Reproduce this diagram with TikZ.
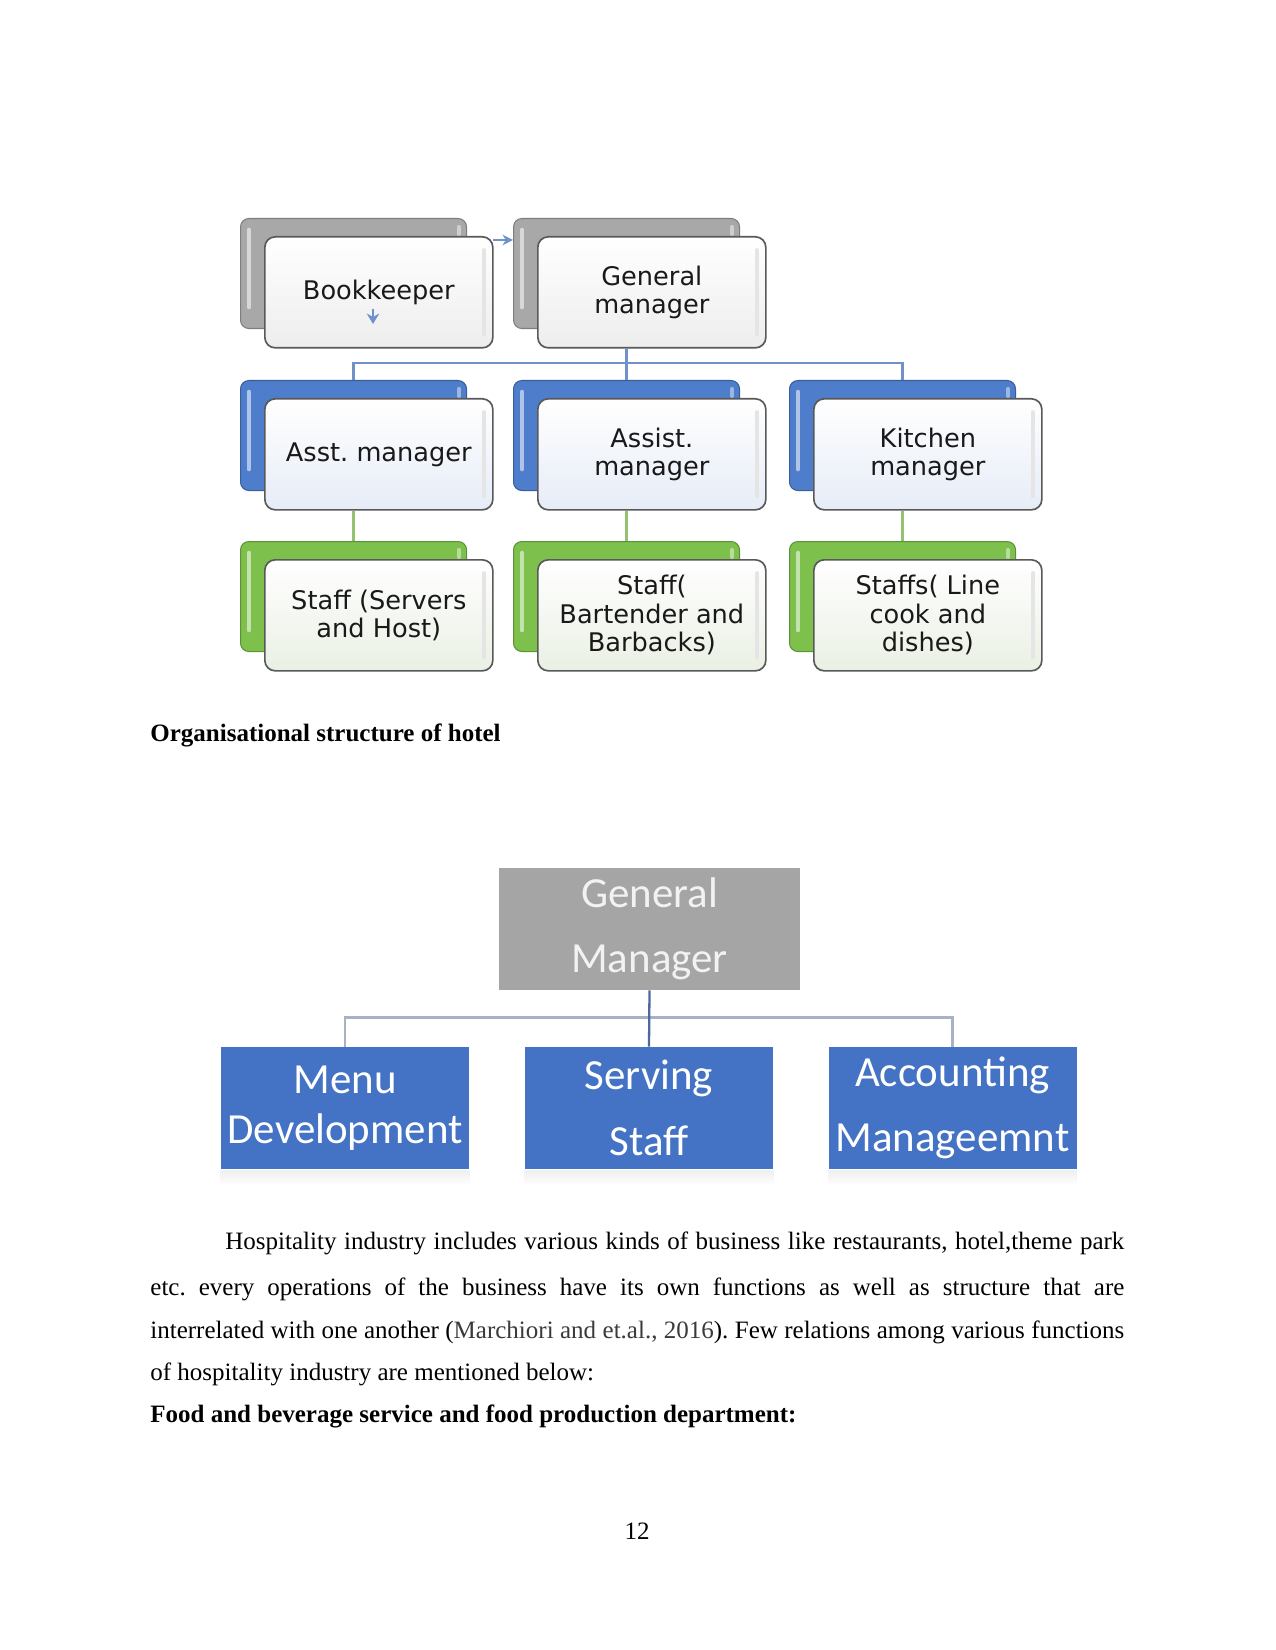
\documentclass[tikz,border=0pt]{standalone}
\usepackage{fontspec}
\setmainfont{Liberation Serif}
\newfontfamily\dvfont{DejaVu Sans}
\newfontfamily\cbfont{Carlito}
\usetikzlibrary{arrows.meta,calc}
\frenchspacing
\definecolor{gback}{HTML}{A8A8A8}
\definecolor{bback}{HTML}{4E7DCC}
\definecolor{grback}{HTML}{7DC04B}
\definecolor{gfront}{HTML}{EDEDED}
\definecolor{bfront}{HTML}{E6ECF7}
\definecolor{grfront}{HTML}{EAF0E4}
\definecolor{conblue}{HTML}{6E92C9}
\definecolor{congreen}{HTML}{94C26E}
\definecolor{gmgray}{HTML}{A5A5A5}
\definecolor{dblue}{HTML}{4472C4}
\definecolor{hline}{HTML}{A7B3C5}
\definecolor{vline}{HTML}{4D6A9C}
\definecolor{citegray}{HTML}{3A3A3A}
\newcommand\pairbox[6]{%
  \node[backbox=#4] (#1b) at (#2,#3) {};
  \draw[white, opacity=0.55, line width=2.2pt, line cap=round] ($(#1b.north west)+(9,12)$) -- ($(#1b.south west)+(9,-22)$);
  \draw[white, opacity=0.45, line width=2pt, line cap=round] ($(#1b.north east)+(-8,9)$) -- ($(#1b.north east)+(-8,16)$);
  \node[frontbox=#5] (#1f) at (#2+24,#3+18) {#6};
  \draw[black!10, line width=1.8pt, line cap=round] ($(#1f.north east)+(-10,14)$) -- ($(#1f.south east)+(-10,-14)$);
}
\begin{document}
\begin{tikzpicture}[x=0.48pt,y=-0.48pt,
  backbox/.style={draw=#1!75!black, fill=#1, rounded corners=4pt, minimum width=226*0.48pt, minimum height=110*0.48pt, inner sep=0pt, anchor=north west, line width=0.5pt},
  frontbox/.style={draw=black!65, rounded corners=5pt, minimum width=228*0.48pt, minimum height=111*0.48pt, inner sep=0pt, top color=white, bottom color=#1, anchor=north west, align=center, font=\dvfont\fontsize{12.3}{13.7}\selectfont, text=black!90, line width=0.8pt},
  bluecon/.style={draw=conblue, line width=1.1pt},
  greencon/.style={draw=congreen, line width=1.1pt},
  flatbox/.style={fill=#1, minimum width=248*0.48pt, minimum height=122*0.48pt, inner sep=0pt, align=center, text=white, font=\cbfont\fontsize{20.6}{31.4}\selectfont},
  bodytext/.style={anchor=base west, inner sep=0pt, font=\fontsize{12}{14}\selectfont}
]
\useasboundingbox[fill=white] (0,0) rectangle (1275,1650);

% ---------- top diagram ----------
\pairbox{bk}{240}{218}{gback}{gfront}{Bookkeeper}
\pairbox{gm}{513}{218}{gback}{gfront}{General\\manager}
\pairbox{ama}{240}{380}{bback}{bfront}{Asst. manager}
\pairbox{amb}{513}{380}{bback}{bfront}{Assist.\\manager}
\pairbox{km}{789}{380}{bback}{bfront}{Kitchen\\manager}
\pairbox{sa}{240}{541}{grback}{grfront}{Staff (Servers\\and Host)}
\pairbox{sb}{513}{541}{grback}{grfront}{Staff(\\Bartender and\\Barbacks)}
\pairbox{sc}{789}{541}{grback}{grfront}{Staffs( Line\\cook and\\dishes)}

\draw[bluecon] (gmf.south -| gmb.north) -- (ambb.north);
\draw[bluecon] (amab.north) -- ++(0,-17) -| (kmb.north);
\draw[greencon] (amaf.south -| amab.north) -- (sab.north);
\draw[greencon] (ambf.south -| ambb.north) -- (sbb.north);
\draw[greencon] (kmf.south -| kmb.north) -- (scb.north);

\coordinate (ar1) at (493,240);
\draw[bluecon, line width=0.9pt, -{Stealth[length=5pt,width=5pt]}] (ar1) -- (gmb.west |- ar1);
\coordinate (ar2s) at (373,309);
\coordinate (ar2e) at (373,324);
\draw[bluecon, line width=0.9pt, -{Stealth[length=5pt,width=6pt]}] (ar2s) -- (ar2e);

% ---------- caption ----------
\node[bodytext, font=\fontsize{12}{14}\selectfont\bfseries] (cap) at (150,741) {Organisational structure of hotel};

% ---------- second diagram ----------
\node[flatbox=gmgray, minimum width=301*0.48pt, text=black!5] (GM) at (649.5,929) {General\\Manager};
\node[flatbox=dblue, font=\cbfont\fontsize{20.6}{24}\selectfont] (md) at (345,1108) {Menu\\Development};
\node[flatbox=dblue] (ss) at (649,1108) {Serving\\Staff};
\node[flatbox=dblue] (acm) at (952.5,1108) {Accounting\\Manageemnt};
\foreach \n in {md,ss,acm}{
  \shade[top color=black!6, bottom color=white] ($(\n.south west)+(0,1)$) rectangle ($(\n.south east)+(0,16)$);
}
\draw[hline, line width=1.2pt] (md.north) -- ++(0,-29) -| (acm.north);
\draw[vline, line width=1.1pt] (GM.south) -- (ss.north);

% ---------- body text ----------
\node[bodytext] (p1) at (225,1249) {\makebox[431.5pt][s]{Hospitality industry includes various kinds of business like restaurants, hotel,theme park}};
\node[bodytext] (p2) at (150,1295) {\makebox[467.5pt][s]{etc. every operations of the business have its own functions as well as structure that are}};
\node[bodytext] (p3) at (150,1338) {\makebox[467.5pt][s]{interrelated with one another ({\color{citegray}Marchiori and et.al., 2016}). Few relations among various functions}};
\node[bodytext] (p4) at (150,1380) {of hospitality industry are mentioned below:};
\node[bodytext, font=\fontsize{12}{14}\selectfont\bfseries] (h1) at (150,1422) {Food and beverage service and food production department:};
\node[bodytext, anchor=base] (pg) at (637,1539) {12};
\end{tikzpicture}
\end{document}
